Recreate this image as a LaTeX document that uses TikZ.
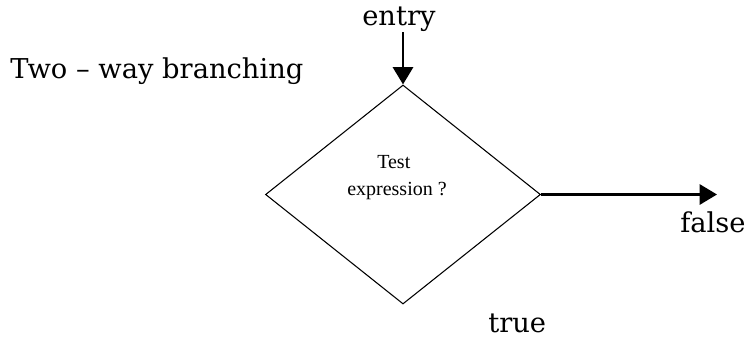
\documentclass[tikz,border=0pt]{standalone}
\usepackage{fontspec}
\setmainfont{DejaVu Serif}
\newfontfamily\timesf{Liberation Serif}
\usetikzlibrary{shapes.geometric,arrows.meta}
\tikzset{
  lbl/.style={inner sep=0pt, anchor=base west, font=\fontsize{20.5}{24}\selectfont},
  inlbl/.style={inner sep=0pt, anchor=base west, font=\timesf\fontsize{15}{18}\selectfont},
  flow/.style={line width=2.2pt, -{Triangle[length=13pt,width=15pt]}},
  decision/.style={shape=diamond, draw, line width=0.8pt, inner sep=0pt,
    minimum width=206.25pt, minimum height=164.25pt}
}
\begin{document}
\begin{tikzpicture}[x=0.75pt,y=-0.75pt]
\useasboundingbox (0,0) rectangle (752,339);
\node[decision] (d) at (403,194.5) {};
\node[lbl] (entry) at (362,25) {entry};
\node[lbl] (title) at (10,78) {Two -- way branching};
\node[lbl] (false) at (680,232) {false};
\node[lbl] (true) at (488,332) {true};
\node[inlbl] (test) at (377,168) {Test};
\node[inlbl] (expr) at (347,195) {expression ?};
\coordinate (in) at (403,32);
\coordinate (out) at (717,194.5);
\draw[flow] (in) -- (d.north);
\draw[flow] (d.east) -- (out);
\end{tikzpicture}
\end{document}
